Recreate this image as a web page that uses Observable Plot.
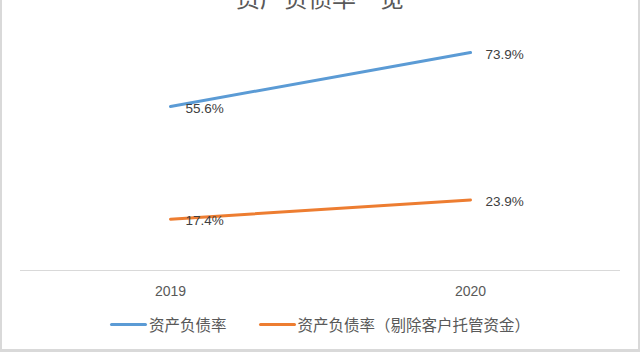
<!DOCTYPE html>
<html>
<head>
<meta charset="utf-8">
<script src="https://cdn.jsdelivr.net/npm/d3@7"></script>
<script src="https://cdn.jsdelivr.net/npm/@observablehq/plot@0.6"></script>
<style>
  html, body { margin: 0; padding: 0; background: #fff; }
  #frame {
    position: relative; width: 640px; height: 352px; box-sizing: border-box;
    border-left: 2px solid #d9d9d9; border-right: 2px solid #d9d9d9; border-bottom: 3px solid #d9d9d9;
    overflow: hidden; background: #fff;
  }
  #title {
    position: absolute; left: 0; right: 0; top: -15px; text-align: center;
    font-family: "Noto Sans CJK SC", sans-serif; font-size: 24px; line-height: 24px; color: #595959;
  }
  #legend {
    display: flex; justify-content: center; align-items: center; gap: 32px;
    height: 36px; font-family: "Noto Sans CJK SC", sans-serif; font-size: 15.5px; color: #595959;
  }
  .item { display: flex; align-items: center; gap: 2px; }
  .swatch { width: 37px; height: 3px; border-radius: 2px; }
</style>
</head>
<body>
<div id="frame">
  <div id="chart"></div>
  <div id="legend"></div>
  <div id="title"></div>
</div>
<script>
const titleText = "资产负债率一览";
const years = ["2019", "2020"];
const seriesNames = ["资产负债率", "资产负债率（剔除客户托管资金）"];
const seriesColors = ["#5b9bd5", "#ed7d31"];
const debtRatio = [55.6, 73.9];
const debtRatioExcl = [17.4, 23.9];

const data = [];
years.forEach((y, i) => {
  data.push({year: y, series: seriesNames[0], value: debtRatio[i]});
  data.push({year: y, series: seriesNames[1], value: debtRatioExcl[i]});
});

document.getElementById("title").textContent = titleText;

const chart = Plot.plot({
  width: 636,
  height: 306,
  marginLeft: 18,
  marginRight: 18,
  marginTop: 34,
  marginBottom: 36,
  style: {background: "transparent", fontFamily: "'Liberation Sans', sans-serif"},
  x: {type: "point", domain: years, padding: 0.5},
  y: {domain: [0, 80], axis: null},
  color: {domain: seriesNames, range: seriesColors},
  marks: [
    Plot.ruleY([0], {stroke: "#d9d9d9", strokeWidth: 1}),
    Plot.axisX({tickSize: 0, tickPadding: 16, fontSize: 14, color: "#595959", fill: "#595959", label: null}),
    Plot.line(data, {x: "year", y: "value", z: "series", stroke: "series", strokeWidth: 3, strokeLinecap: "round"}),
    Plot.text(data, {x: "year", y: "value", text: d => d.value.toFixed(1) + "%", textAnchor: "start", dx: 15, dy: 2, fontSize: 13.5, fill: "#404040"})
  ]
});
document.getElementById("chart").appendChild(chart);

const legend = document.getElementById("legend");
seriesNames.forEach((name, i) => {
  const item = document.createElement("div");
  item.className = "item";
  const sw = document.createElement("div");
  sw.className = "swatch";
  sw.style.background = seriesColors[i];
  const label = document.createElement("span");
  label.textContent = name;
  item.appendChild(sw);
  item.appendChild(label);
  legend.appendChild(item);
});
</script>
</body>
</html>
